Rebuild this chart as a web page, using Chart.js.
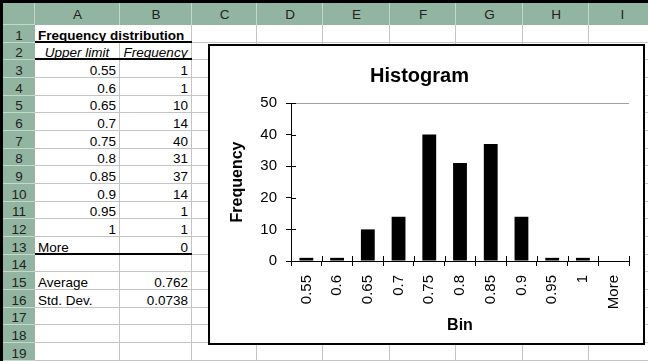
<!DOCTYPE html>
<html>
<head>
<meta charset="utf-8">
<script src="https://cdn.jsdelivr.net/npm/chart.js@4.4.1/dist/chart.umd.min.js"></script>
<style>
  body { margin: 0; background: #fff; }
  #sheet {
    position: relative; width: 648px; height: 361px; overflow: hidden;
    font-family: Arial, "Liberation Sans", sans-serif; font-size: 13.5px; color: #000;
  }
  #chartBox {
    position: absolute; left: 208px; top: 44px; width: 437px; height: 301px;
    box-sizing: border-box; border: 2px solid #000; background: #fff;
  }
  #myChart { display: block; }
</style>
</head>
<body>
<div id="sheet">
  <div id="chartBox"><canvas id="myChart" width="433" height="297"></canvas></div>
</div>
<script>
// data
const upperLimits = ['0.55', '0.6', '0.65', '0.7', '0.75', '0.8', '0.85', '0.9', '0.95', '1', 'More'];
const frequencies = [1, 1, 10, 14, 40, 31, 37, 14, 1, 1, 0];
const yTicks = [0, 10, 20, 30, 40, 50];
const columnLetters = ['A', 'B', 'C', 'D', 'E', 'F', 'G', 'H', 'I'];
const statNames = ['Average', 'Std. Dev.'];
const statValues = ['0.762', '0.0738'];

// sheet geometry
const colEdges = [3, 35, 120, 192, 257, 323, 390, 456, 523, 589, 656];
const ROW_H = 17.67;
const rowTop = r => 25 + (r - 1) * ROW_H;
const headerGreen = '#92b5a2';
const headerLine = '#c4d8cb';
const gridGray = '#c4c4c4';

const sheet = document.getElementById('sheet');
const box = document.getElementById('chartBox');

function put(l, t, w, h, css, text) {
  const d = document.createElement('div');
  d.style.cssText = 'position:absolute;left:' + l + 'px;top:' + t + 'px;width:' + w + 'px;height:' + h + 'px;' + (css || '');
  if (text !== undefined) d.textContent = text;
  sheet.insertBefore(d, box);
  return d;
}

function cell(col, row, text, align, extra) {
  const l = colEdges[col + 1];
  const w = colEdges[col + 2] - l;
  const t = rowTop(row);
  put(l, t, w, ROW_H, 'box-sizing:border-box;white-space:nowrap;padding:1.5px 4px 0 3px;line-height:' + ROW_H + 'px;text-align:' + align + ';' + (extra || ''), text);
}

// gridlines
for (let r = 1; r <= 19; r++) {
  put(35, Math.round(rowTop(r + 1)) - 1, 613, 1, 'background:' + gridGray);
}
for (let i = 2; i < colEdges.length; i++) {
  put(colEdges[i] - 1, 25, 1, 336, 'background:' + gridGray);
}

// headers
put(3, 3, 645, 22, 'background:' + headerGreen);
put(3, 25, 32, 336, 'background:' + headerGreen);
for (let i = 1; i < colEdges.length; i++) {
  put(colEdges[i] - 1, 3, 1, 22, 'background:' + headerLine);
}
put(3, 24, 32, 1, 'background:' + headerLine);
for (let r = 1; r <= 19; r++) {
  put(3, Math.round(rowTop(r + 1)) - 1, 32, 1, 'background:' + headerLine);
  put(3, rowTop(r), 32, ROW_H, 'text-align:center;padding-top:1.5px;box-sizing:border-box;line-height:' + ROW_H + 'px;color:#222', String(r));
}
columnLetters.forEach((c, i) => {
  put(colEdges[i + 1], 3, colEdges[i + 2] - colEdges[i + 1], 22, 'text-align:center;line-height:23px;color:#222', c);
});

// frame of the window
put(0, 0, 648, 3, 'background:#000');
put(0, 0, 3, 361, 'background:#000');

// cell contents
put(35, 25, 156, 16, 'background:#fff');
cell(0, 1, 'Frequency distribution', 'left', 'font-weight:bold;overflow:visible;');
cell(0, 2, 'Upper limit', 'center', 'font-style:italic;');
cell(1, 2, 'Frequency', 'center', 'font-style:italic;');
upperLimits.forEach((u, i) => {
  cell(0, i + 3, u, u === 'More' ? 'left' : 'right');
  cell(1, i + 3, String(frequencies[i]), 'right');
});
statNames.forEach((s, i) => {
  cell(0, 15 + i, s, 'left');
  cell(1, 15 + i, statValues[i], 'right');
});
[1, 2, 13].forEach(r => {
  put(35, Math.round(rowTop(r + 1)) - 2, 157, 2, 'background:#000');
});

// inner half of the cross tick marks
const crossTicks = {
  id: 'crossTicks',
  afterDraw(chart) {
    const { ctx, chartArea, scales } = chart;
    const x = scales.x, y = scales.y;
    ctx.save();
    ctx.strokeStyle = '#000';
    ctx.lineWidth = 1;
    ctx.beginPath();
    y.ticks.forEach((t, i) => {
      const py = Math.round(y.getPixelForTick(i)) + 0.5;
      ctx.moveTo(chartArea.left, py);
      ctx.lineTo(chartArea.left + 5, py);
    });
    const half = (x.getPixelForTick(1) - x.getPixelForTick(0)) / 2;
    for (let i = 0; i <= upperLimits.length; i++) {
      const px = Math.round(x.getPixelForTick(0) - half + i * half * 2) + 0.5;
      ctx.moveTo(px, chartArea.bottom);
      ctx.lineTo(px, chartArea.bottom - 5);
    }
    ctx.stroke();
    ctx.restore();
  }
};

const font = 'Arial, "Liberation Sans", sans-serif';
Chart.defaults.font.family = font;
Chart.defaults.color = '#000';

new Chart(document.getElementById('myChart'), {
  type: 'bar',
  data: {
    labels: upperLimits,
    datasets: [{
      label: 'Frequency',
      data: frequencies,
      backgroundColor: '#000',
      borderWidth: 0,
      barPercentage: 0.45,
      categoryPercentage: 1
    }]
  },
  options: {
    responsive: false,
    animation: false,
    layout: { padding: { left: 0, right: 14, top: 0, bottom: 0 } },
    plugins: {
      legend: { display: false },
      tooltip: { enabled: false },
      title: {
        display: true,
        text: 'Histogram',
        color: '#000',
        font: { size: 20, weight: 'bold' },
        padding: { top: 18, bottom: 15 }
      }
    },
    scales: {
      x: {
        grid: { offset: true, drawOnChartArea: false, tickLength: 5, color: '#000' },
        border: { color: '#000', width: 1 },
        ticks: { minRotation: 90, maxRotation: 90, autoSkip: false, padding: 9, font: { size: 15 }, color: '#000' },
        title: { display: true, text: 'Bin', font: { size: 16, weight: 'bold' }, color: '#000', padding: { top: 0, bottom: 8 } },
        afterFit(scale) {
          scale.height = 82;
          scale.paddingLeft = 0;
          scale.paddingRight = 0;
        }
      },
      y: {
        min: yTicks[0],
        max: yTicks[yTicks.length - 1],
        ticks: { stepSize: yTicks[1] - yTicks[0], padding: 9, font: { size: 15 }, color: '#000' },
        grid: {
          tickLength: 5,
          tickColor: '#000',
          color: c => (c.tick && c.tick.value === yTicks[yTicks.length - 1]) ? '#a0a0a0' : 'rgba(0,0,0,0)'
        },
        border: { color: '#000', width: 1 },
        title: { display: true, text: 'Frequency', font: { size: 16, weight: 'bold' }, color: '#000', padding: { top: 18, bottom: 0 } },
        afterFit(scale) {
          scale.width = 81;
          scale.paddingTop = 0;
          scale.paddingBottom = 0;
        }
      }
    }
  },
  plugins: [crossTicks]
});
</script>
</body>
</html>
